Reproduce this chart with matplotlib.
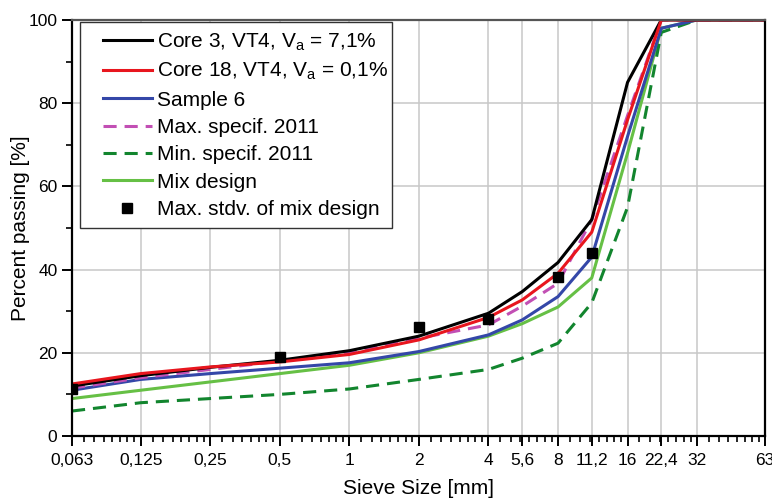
import numpy as np
import matplotlib
matplotlib.use("Agg")
import matplotlib.pyplot as plt
from matplotlib.patches import Rectangle
from matplotlib.ticker import FixedLocator, NullFormatter

plt.rcParams['font.family'] = ['Liberation Sans', 'DejaVu Sans']
plt.rcParams['mathtext.default'] = 'regular'

# sieve sizes [mm]
sieves = [0.063, 0.125, 0.25, 0.5, 1, 2, 4, 5.6, 8, 11.2, 16, 22.4, 32, 63]
tick_labels = ['0,063', '0,125', '0,25', '0,5', '1', '2', '4', '5,6', '8',
               '11,2', '16', '22,4', '32', '63']

# percent passing
core3 = [12, 14.5, 16.5, 18.2, 20.5, 24, 29.5, 34.7, 41.7, 52, 85, 100, 100, 100]
core18 = [12.5, 15, 16.6, 17.8, 19.6, 23.1, 28.5, 32.7, 39.1, 49, 76, 100, 100, 100]
sample6 = [11, 13.6, 15, 16.3, 17.6, 20.3, 24.3, 27.9, 33.5, 43, 72, 98, 100, 100]
max_spec = [11.5, 14, 16, 18, 20, 23.5, 26.7, 31.2, 36.7, 52, 77, 100, 100, 100]
min_spec = [6, 8, 9, 10, 11.3, 13.6, 16, 18.7, 22.3, 32, 55, 97, 100, 100]
mix = [9, 11, 13, 15, 17, 20, 24, 27, 31, 38, 68, 98, 100, 100]

stdv_sieves = [0.063, 0.5, 2, 4, 8, 11.2]
stdv_vals = [11.2, 19.1, 26.1, 28, 38.1, 44]

fig = plt.figure(figsize=(7.72, 4.98), dpi=100)
ax = fig.add_axes([0.0933, 0.1245, 0.8977, 0.8355])

lw = 2.2
dash = (4.3, 2.6)
ax.plot(sieves, core3, color='black', lw=lw, zorder=2.4,
        label=r'Core 3, VT4, V$_\mathregular{a}$ = 7,1%')
ax.plot(sieves, core18, color='#e8161e', lw=lw, zorder=2.5,
        label=r'Core 18, VT4, V$_\mathregular{a}$ = 0,1%')
ax.plot(sieves, sample6, color='#3447a8', lw=lw, zorder=2.2, label='Sample 6')
ax.plot(sieves, max_spec, color='#c24fb4', lw=lw, dashes=dash, zorder=2.3,
        label='Max. specif. 2011')
ax.plot(sieves, min_spec, color='#12852e', lw=lw, dashes=dash, zorder=2.1,
        label='Min. specif. 2011')
ax.plot(sieves, mix, color='#66c045', lw=lw, zorder=2.0, label='Mix design')
ax.plot(stdv_sieves, stdv_vals, 's', color='black', ms=7, zorder=3,
        label='Max. stdv. of mix design')

ax.set_xscale('log')
ax.set_xlim(0.063, 63)
ax.set_ylim(0, 100)

ax.xaxis.set_major_locator(FixedLocator(sieves))
ax.set_xticklabels(tick_labels)
octaves = [0.063, 0.125, 0.25, 0.5, 1, 2, 4, 8, 16, 32, 63]
minor = []
for lo, hi in zip(octaves[:-1], octaves[1:]):
    minor += [lo + j * (hi - lo) / 8 for j in range(1, 8)]
ax.xaxis.set_minor_locator(FixedLocator(minor))
ax.xaxis.set_minor_formatter(NullFormatter())

ax.set_yticks([0, 20, 40, 60, 80, 100])
ax.set_yticks([10, 30, 50, 70, 90], minor=True)

ax.tick_params(which='major', direction='out', length=7, width=1.4,
               labelsize=12.5, colors='black')
ax.tick_params(axis='x', which='major', pad=5)
ax.tick_params(which='minor', direction='out', length=4, width=1.2)

ax.grid(True, which='major', color='#c8c8c8', lw=1.1)
ax.set_axisbelow(True)

for s in ax.spines.values():
    s.set_linewidth(1.6)
    s.set_color('black')
ax.spines['top'].set_color('#555555')

ax.set_xlabel('Sieve Size [mm]', fontsize=15, labelpad=8)
ax.set_ylabel('Percent passing [%]', fontsize=15, labelpad=-1)

# legend box drawn separately so the entries can sit a bit further in
frame = Rectangle((0.0115, 0.5), 0.4503, 0.495, transform=ax.transAxes,
                  facecolor='white', edgecolor='#333333', lw=1.0, zorder=4)
ax.add_patch(frame)
leg = ax.legend(loc='upper left', bbox_to_anchor=(0.031, 0.995),
                borderaxespad=0, fontsize=15, handlelength=2.35,
                handletextpad=0.25, labelspacing=0.4, frameon=False,
                borderpad=0.45)
leg.set_zorder(5)

fig.savefig('out.png', dpi=100)
